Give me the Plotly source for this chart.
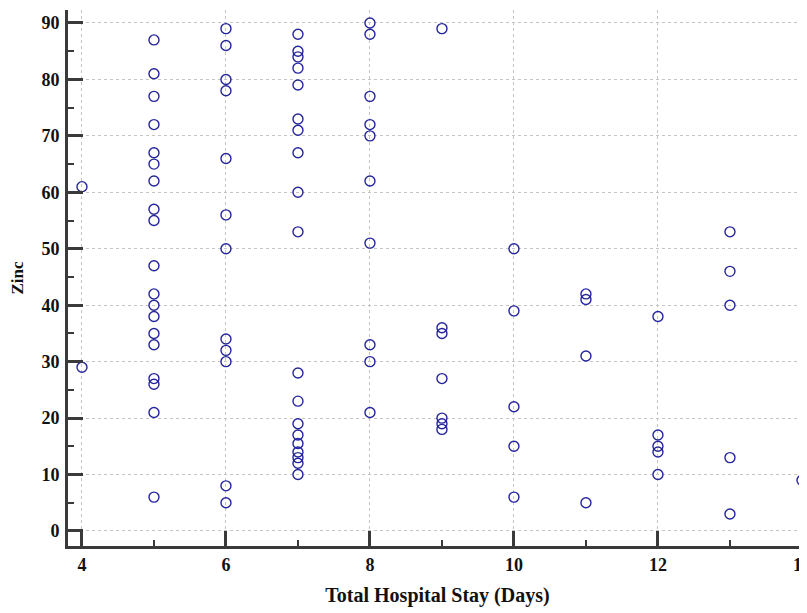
import plotly.graph_objects as go

# Data: total hospital stay (days) vs zinc
stay_4 = [61, 29]
stay_5 = [87, 81, 77, 72, 67, 65, 62, 57, 55, 47, 42, 40, 38, 35, 33, 27, 26, 21, 6]
stay_6 = [89, 86, 80, 78, 66, 56, 50, 34, 32, 30, 8, 5]
stay_7 = [88, 85, 84, 82, 79, 73, 71, 67, 60, 53, 28, 23, 19, 17, 15.5, 14, 13, 12, 10]
stay_8 = [90, 88, 77, 72, 70, 62, 51, 33, 30, 21]
stay_9 = [89, 36, 35, 27, 20, 19, 18]
stay_10 = [50, 39, 22, 15, 6]
stay_11 = [42, 41, 31, 5]
stay_12 = [38, 17, 15, 14, 10]
stay_13 = [53, 46, 40, 13, 3]
stay_14 = [9]

groups = {4: stay_4, 5: stay_5, 6: stay_6, 7: stay_7, 8: stay_8, 9: stay_9,
          10: stay_10, 11: stay_11, 12: stay_12, 13: stay_13, 14: stay_14}

xs, ys = [], []
for d, vals in groups.items():
    for v in vals:
        xs.append(d)
        ys.append(v)

font_family = "Liberation Serif"
axis_color = "#3a3a3a"

fig = go.Figure()
fig.add_trace(go.Scatter(
    x=xs, y=ys, mode="markers",
    marker=dict(symbol="circle-open", size=10, color="#24249c",
                line=dict(width=1.4, color="#24249c")),
    showlegend=False, cliponaxis=False,
))

fig.update_layout(
    width=807, height=605,
    margin=dict(l=60, r=8, t=2, b=67),
    paper_bgcolor="white", plot_bgcolor="white",
    font=dict(family=font_family, size=18, color="#111111"),
)

fig.update_xaxes(
    range=[3.806, 14.07], automargin=False,
    tickmode="linear", tick0=4, dtick=2,
    ticks="inside", ticklen=15, tickwidth=3, tickcolor=axis_color,
    minor=dict(ticks="inside", ticklen=6, tickwidth=1.5, tickcolor=axis_color,
               dtick=1, tick0=4, showgrid=False),
    showline=True, linewidth=3, linecolor=axis_color,
    showgrid=True, gridcolor="#c4c4c4", griddash="dot", gridwidth=1,
    zeroline=False, ticklabeloverflow="allow",
    tickfont=dict(family=font_family, size=18, weight="bold"),
    title=dict(text="<b>Total Hospital Stay (Days)</b>",
               font=dict(family=font_family, size=20), standoff=15),
)

fig.update_yaxes(
    range=[-2.66, 92.3], automargin=False,
    tickmode="linear", tick0=0, dtick=10,
    ticks="inside", ticklen=15, tickwidth=3, tickcolor=axis_color,
    minor=dict(ticks="inside", ticklen=6, tickwidth=1.5, tickcolor=axis_color,
               dtick=5, tick0=0, showgrid=False),
    showline=True, linewidth=3, linecolor=axis_color,
    showgrid=True, gridcolor="#c4c4c4", griddash="dot", gridwidth=1,
    zeroline=False,
    ticklabelstandoff=2,
    tickfont=dict(family=font_family, size=18, weight="bold"),
    title=dict(text="<b>Zinc</b>",
               font=dict(family=font_family, size=17), standoff=15),
)

fig.write_html("out.html")
